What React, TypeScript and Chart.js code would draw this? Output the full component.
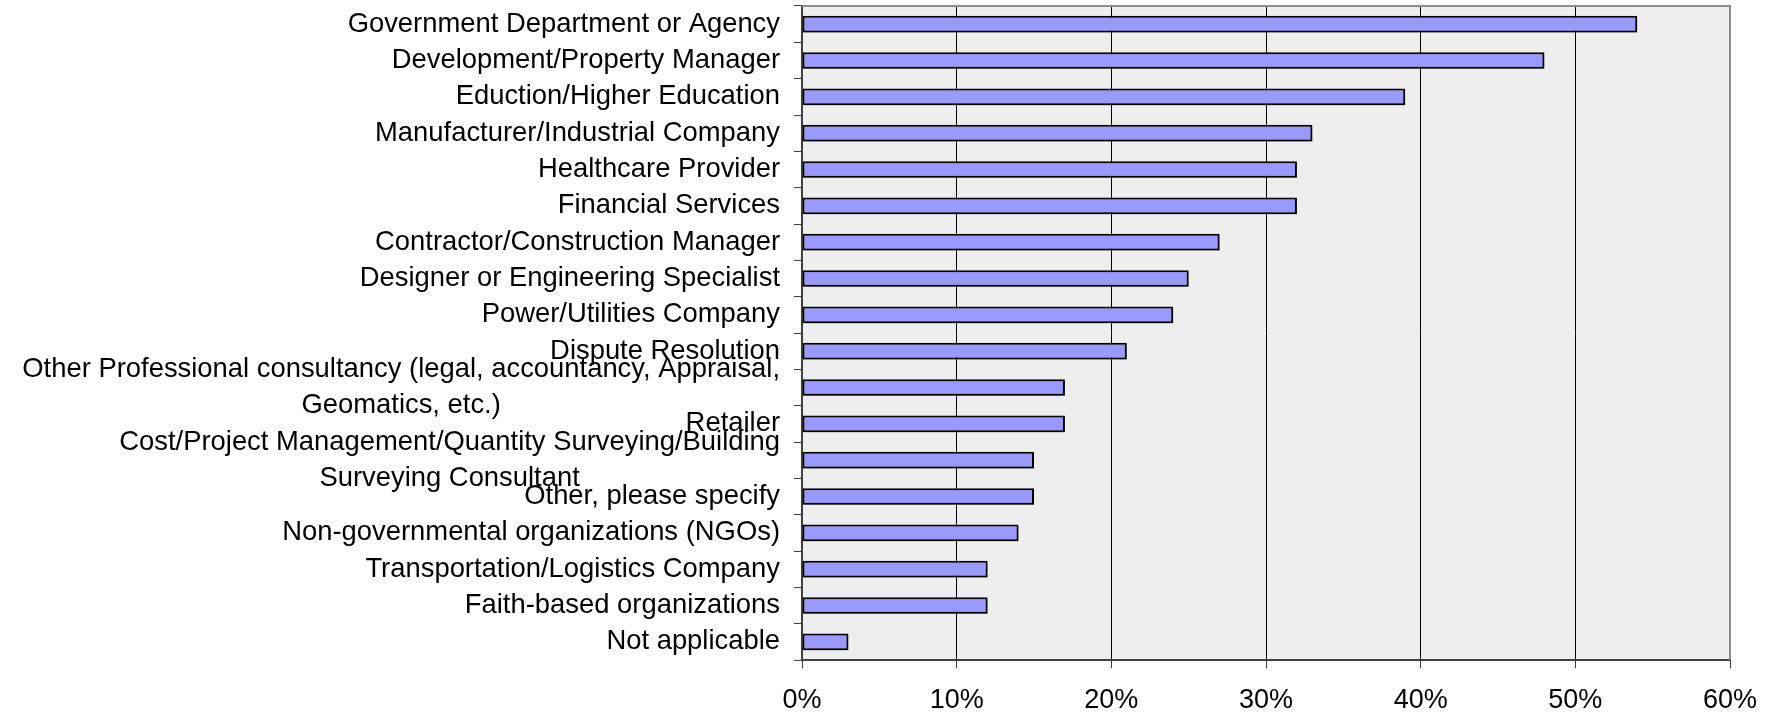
import React, { useEffect, useRef } from 'react';
import { Chart, registerables } from 'chart.js';

Chart.register(...registerables);

const categories: (string | string[])[] = [
  'Government Department or Agency',
  'Development/Property Manager',
  'Eduction/Higher Education',
  'Manufacturer/Industrial Company',
  'Healthcare Provider',
  'Financial Services',
  'Contractor/Construction Manager',
  'Designer or Engineering Specialist',
  'Power/Utilities Company',
  'Dispute Resolution',
  ['Other Professional consultancy (legal, accountancy, Appraisal,', 'Geomatics, etc.)'],
  'Retailer',
  ['Cost/Project Management/Quantity Surveying/Building', 'Surveying Consultant'],
  'Other, please specify',
  'Non-governmental organizations (NGOs)',
  'Transportation/Logistics Company',
  'Faith-based organizations',
  'Not applicable',
];

const values: number[] = [54, 48, 39, 33, 32, 32, 27, 25, 24, 21, 17, 17, 15, 15, 14, 12, 12, 3];

const xMin = 0;
const xMax = 60;
const xStep = 10;

const FONT_FAMILY = '"Liberation Sans", Arial, Helvetica, sans-serif';
const FONT_SIZE = 27.4;
const TICK_FONT_SIZE = 27;
const LINE_H = 36;
const LABEL_GAP = 22;

const W = 1775;
const H = 714;

const plotBg = {
  id: 'plotBg',
  beforeDraw(chart: any) {
    const { ctx, chartArea: a } = chart;
    ctx.save();
    ctx.fillStyle = '#EEEEEE';
    ctx.fillRect(a.left, a.top, a.right - a.left, a.bottom - a.top);
    ctx.restore();
  },
  beforeDatasetsDraw(chart: any) {
    const ctx = chart.ctx;
    ctx.save();
    ctx.shadowColor = 'rgba(0,0,0,0.35)';
    ctx.shadowOffsetX = 1;
    ctx.shadowOffsetY = 1.5;
    ctx.shadowBlur = 0;
  },
  afterDatasetsDraw(chart: any) {
    chart.ctx.restore();
  },
  afterDraw(chart: any) {
    const { ctx, chartArea: a } = chart;
    ctx.save();
    ctx.strokeStyle = '#8C8C8C';
    ctx.lineWidth = 2;
    ctx.beginPath();
    ctx.moveTo(a.left, a.top);
    ctx.lineTo(a.right, a.top);
    ctx.lineTo(a.right, a.bottom);
    ctx.stroke();
    ctx.restore();

    // category labels: block right-aligned, lines centred within the block
    const yScale = chart.scales.y;
    const labelRight = a.left - LABEL_GAP;
    ctx.save();
    ctx.font = `${FONT_SIZE}px ${FONT_FAMILY}`;
    ctx.fillStyle = '#000000';
    ctx.textBaseline = 'middle';
    ctx.textAlign = 'center';
    categories.forEach((lab, i) => {
      const lines = Array.isArray(lab) ? lab : [lab];
      const w = Math.max(...lines.map((l) => ctx.measureText(l).width));
      const cx = labelRight - w / 2;
      const cy = yScale.getPixelForValue(i);
      lines.forEach((l, j) => {
        ctx.fillText(l, cx, cy + (j - (lines.length - 1) / 2) * LINE_H);
      });
    });
    ctx.restore();
  },
};

export default function App() {
  const ref = useRef<HTMLCanvasElement | null>(null);

  useEffect(() => {
    if (!ref.current) return;
    const chart = new Chart(ref.current, {
      type: 'bar',
      data: {
        labels: categories,
        datasets: [
          {
            data: values,
            backgroundColor: '#9999FF',
            borderColor: '#000000',
            borderWidth: 2,
            borderSkipped: false,
            categoryPercentage: 1,
            barPercentage: 0.46,
          },
        ],
      },
      options: {
        indexAxis: 'y',
        animation: false,
        responsive: false,
        devicePixelRatio: 1,
        layout: { padding: { left: 794, right: 45, top: 6, bottom: 0 } },
        plugins: {
          legend: { display: false },
          tooltip: { enabled: false },
        },
        scales: {
          x: {
            type: 'linear',
            min: xMin,
            max: xMax,
            afterFit: (s: any) => {
              s.height = 54;
            },
            ticks: {
              stepSize: xStep,
              callback: (v: any) => `${v}%`,
              color: '#000000',
              font: { family: FONT_FAMILY, size: TICK_FONT_SIZE },
              padding: 16,
              maxRotation: 0,
            },
            grid: {
              color: (c: any) => {
                const v = c.tick ? c.tick.value : 0;
                return v === xMin || v === xMax ? 'rgba(0,0,0,0)' : '#000000';
              },
              lineWidth: 1,
              tickLength: 8,
              tickColor: '#404040',
              tickWidth: 1,
            },
            border: { display: true, color: '#404040', width: 2 },
          },
          y: {
            type: 'category',
            offset: true,
            afterFit: (s: any) => {
              s.width = 8;
            },
            ticks: { display: false },
            grid: {
              display: true,
              drawOnChartArea: false,
              offset: true,
              tickLength: 8,
              tickColor: '#404040',
              tickWidth: 1,
            },
            border: { display: true, color: '#404040', width: 2 },
          },
        },
      },
      plugins: [plotBg],
    });
    return () => chart.destroy();
  }, []);

  return (
    <div style={{ position: 'absolute', left: 0, top: 0, width: W, height: H }}>
      <canvas ref={ref} width={W} height={H} style={{ display: 'block' }} />
    </div>
  );
}
